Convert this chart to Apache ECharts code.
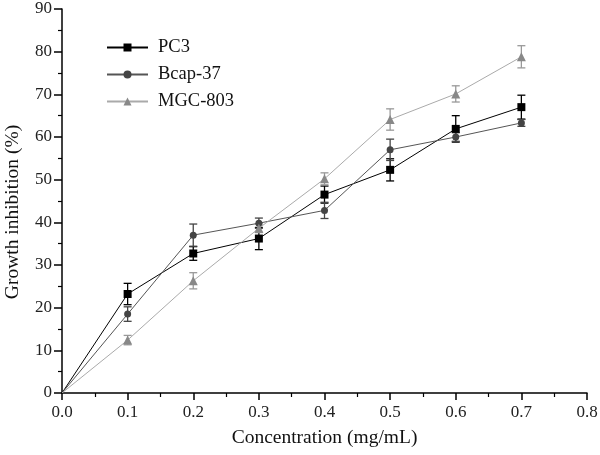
<!DOCTYPE html>
<html>
<head>
<meta charset="utf-8">
<script src="https://cdn.jsdelivr.net/npm/echarts@6/dist/echarts.min.js"></script>
<style>html,body{margin:0;padding:0;background:#fff;}#c{width:600px;height:455px;}</style>
</head>
<body>
<div id="c"></div>
<script>
const conc = [0, 0.1, 0.2, 0.3, 0.4, 0.5, 0.6, 0.7];
const pc3 = [0, 23.2, 32.7, 36.2, 46.5, 52.3, 61.9, 67.0];
const pc3Err = [0, 2.5, 1.6, 2.6, 2.0, 2.6, 3.1, 2.8];
const bcap = [0, 18.5, 37.0, 39.8, 42.8, 57.0, 60.0, 63.3];
const bcapErr = [0, 1.7, 2.6, 1.2, 1.9, 2.5, 1.0, 0.8];
const mgc = [0, 12.4, 26.3, 38.6, 50.2, 64.1, 70.1, 78.8];
const mgcErr = [0, 1.1, 1.9, 1.0, 1.4, 2.5, 1.9, 2.6];
const xTicks = ['0.0','0.1','0.2','0.3','0.4','0.5','0.6','0.7','0.8'];

const font = 'Liberation Serif';
function pts(v){
  return conc.map((x,i)=> i===0 ? {value:[x, v[i]], symbol:'none'} : [x, v[i]]);
}
function errPts(v,e){ return conc.map((x,i)=>[x, v[i], e[i]]).filter(d=>d[2]>0); }
function errSeries(name, v, e, color){
  return {
    type:'custom', name: name+'_err', z:1, silent:true,
    data: errPts(v,e),
    renderItem: function(params, api){
      const x = api.value(0), y = api.value(1), er = api.value(2);
      const top = api.coord([x, y+er]);
      const bot = api.coord([x, y-er]);
      const cw = 4;
      const st = {stroke: color, lineWidth: 1.3};
      return {type:'group', children:[
        {type:'line', shape:{x1:top[0],y1:top[1],x2:bot[0],y2:bot[1]}, style:st},
        {type:'line', shape:{x1:top[0]-cw,y1:top[1],x2:top[0]+cw,y2:top[1]}, style:st},
        {type:'line', shape:{x1:bot[0]-cw,y1:bot[1],x2:bot[0]+cw,y2:bot[1]}, style:st}
      ]};
    }
  };
}
function lineSeries(name, v, symbol, size, lineColor, symColor){
  return {
    type:'line', name:name, data: pts(v), symbol: symbol, symbolSize: size, z:3,
    showSymbol:true,
    lineStyle:{color: lineColor, width:1},
    itemStyle:{color: symColor},
    emphasis:{disabled:true}
  };
}
const chart = echarts.init(document.getElementById('c'), null, {renderer:'canvas'});
chart.setOption({
  animation:false,
  backgroundColor:'#fff',
  grid:{left:62, right:13, top:9, bottom:62, containLabel:false, outerBoundsMode:'none'},
  legend:{
    orient:'vertical', left:101, top:33, itemWidth:41, itemHeight:10, itemGap:8,
    data:['PC3','Bcap-37','MGC-803'],
    textStyle:{fontFamily:font, fontSize:18.5, lineHeight:19, color:'#111', padding:[0,0,0,5]}
  },
  xAxis:{
    type:'value', min:0, max:0.8, interval:0.1,
    name:'Concentration (mg/mL)', nameLocation:'middle', nameGap:35,
    nameTextStyle:{fontFamily:font, fontSize:19.5, color:'#111'},
    axisLine:{lineStyle:{color:'#000', width:1.5}},
    axisTick:{show:true, length:7, lineStyle:{color:'#000', width:1.5}},
    minorTick:{show:true, splitNumber:2, length:4, lineStyle:{color:'#000', width:1.2}},
    splitLine:{show:false},
    axisLabel:{fontFamily:font, fontSize:17, color:'#222', margin:11,
      formatter:function(v){ return xTicks[Math.round(v*10)]; }}
  },
  yAxis:{
    type:'value', min:0, max:90, interval:10,
    name:'Growth inhibition (%)', nameLocation:'middle', nameGap:39, nameRotate:90,
    nameTextStyle:{fontFamily:font, fontSize:19.5, color:'#111', padding:[0,22,0,0]},
    axisLine:{show:true, lineStyle:{color:'#000', width:1.5}},
    axisTick:{show:true, length:8, lineStyle:{color:'#000', width:1.5}},
    minorTick:{show:true, splitNumber:2, length:4, lineStyle:{color:'#000', width:1.2}},
    splitLine:{show:false},
    axisLabel:{fontFamily:font, fontSize:17, color:'#222', margin:10}
  },
  series:[
    errSeries('PC3', pc3, pc3Err, '#000'),
    errSeries('Bcap-37', bcap, bcapErr, '#444'),
    errSeries('MGC-803', mgc, mgcErr, '#999'),
    lineSeries('PC3', pc3, 'rect', 8, '#000', '#000'),
    lineSeries('Bcap-37', bcap, 'circle', 7, '#555', '#444'),
    lineSeries('MGC-803', mgc, 'triangle', 9, '#aaa', '#888')
  ]
});
</script>
</body>
</html>
